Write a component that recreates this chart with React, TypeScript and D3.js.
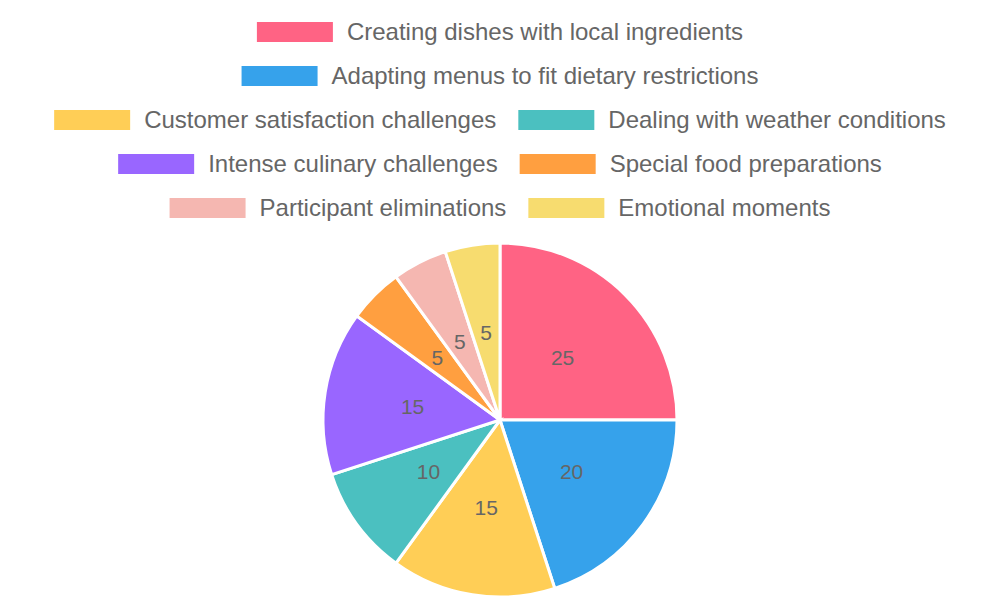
import * as d3 from "d3";

const labels = [
  "Creating dishes with local ingredients",
  "Adapting menus to fit dietary restrictions",
  "Customer satisfaction challenges",
  "Dealing with weather conditions",
  "Intense culinary challenges",
  "Special food preparations",
  "Participant eliminations",
  "Emotional moments",
];
const values = [25, 20, 15, 10, 15, 5, 5, 5];
const colors = [
  "#FF6384",
  "#36A2EB",
  "#FFCE56",
  "#4BC0C0",
  "#9966FF",
  "#FF9F40",
  "#F5B7B1",
  "#F7DC6F",
];

const width = 1000;
const height = 600;
const fontFamily = "'Liberation Sans', Arial, Helvetica, sans-serif";
const legendFont = 24;
const boxW = 76;
const boxH = 20;
const itemGap = 22;
const rowH = 44;
const legendTop = 32;
const maxRowWidth = 960;

let ctx: CanvasRenderingContext2D | null = null;
const measure = (t: string) => {
  if (!ctx) ctx = document.createElement("canvas").getContext("2d");
  ctx!.font = `${legendFont}px ${fontFamily}`;
  return ctx!.measureText(t).width;
};

const App = () => {
  // legend layout, wrapped into centered rows
  const items = labels.map((l, i) => ({
    label: l,
    color: colors[i],
    w: boxW + 14 + measure(l),
  }));
  const rows: (typeof items)[] = [];
  let cur: typeof items = [];
  let curW = 0;
  items.forEach((it) => {
    const add = cur.length ? itemGap + it.w : it.w;
    if (cur.length && curW + add > maxRowWidth) {
      rows.push(cur);
      cur = [it];
      curW = it.w;
    } else {
      cur.push(it);
      curW += add;
    }
  });
  if (cur.length) rows.push(cur);

  const cx = 500;
  const cy = 420;
  const r = 177;

  const pie = d3.pie<number>().sort(null).value((d) => d);
  const arcs = pie(values);
  const arc = d3.arc<d3.PieArcDatum<number>>().innerRadius(0).outerRadius(r);
  const labelArc = d3
    .arc<d3.PieArcDatum<number>>()
    .innerRadius(r / 2)
    .outerRadius(r / 2);

  return (
    <div style={{ position: "fixed", left: 0, top: 0 }}>
      <svg width={width} height={height} style={{ display: "block", background: "#fff" }}>
        <g fontFamily={fontFamily}>
          {rows.map((row, ri) => {
            const total = d3.sum(row, (d) => d.w) + itemGap * (row.length - 1);
            let x = (width - total) / 2;
            const y = legendTop + ri * rowH;
            return row.map((it) => {
              const x0 = x;
              x += it.w + itemGap;
              return (
                <g key={it.label}>
                  <rect x={x0} y={y - boxH / 2} width={boxW} height={boxH} fill={it.color} />
                  <text
                    x={x0 + boxW + 14}
                    y={y}
                    dy="0.35em"
                    fontSize={legendFont}
                    fill="#666"
                  >
                    {it.label}
                  </text>
                </g>
              );
            });
          })}
        </g>
        <g transform={`translate(${cx},${cy})`}>
          {arcs.map((a, i) => (
            <path key={i} d={arc(a) ?? ""} fill={colors[i]} stroke="#fff" strokeWidth={3} />
          ))}
          {arcs.map((a, i) => {
            const [lx, ly] = labelArc.centroid(a);
            return (
              <text
                key={i}
                x={lx}
                y={ly}
                dy="0.35em"
                textAnchor="middle"
                fontSize={21}
                fontFamily={fontFamily}
                fill="#666"
              >
                {values[i]}
              </text>
            );
          })}
        </g>
      </svg>
    </div>
  );
};

export default App;
